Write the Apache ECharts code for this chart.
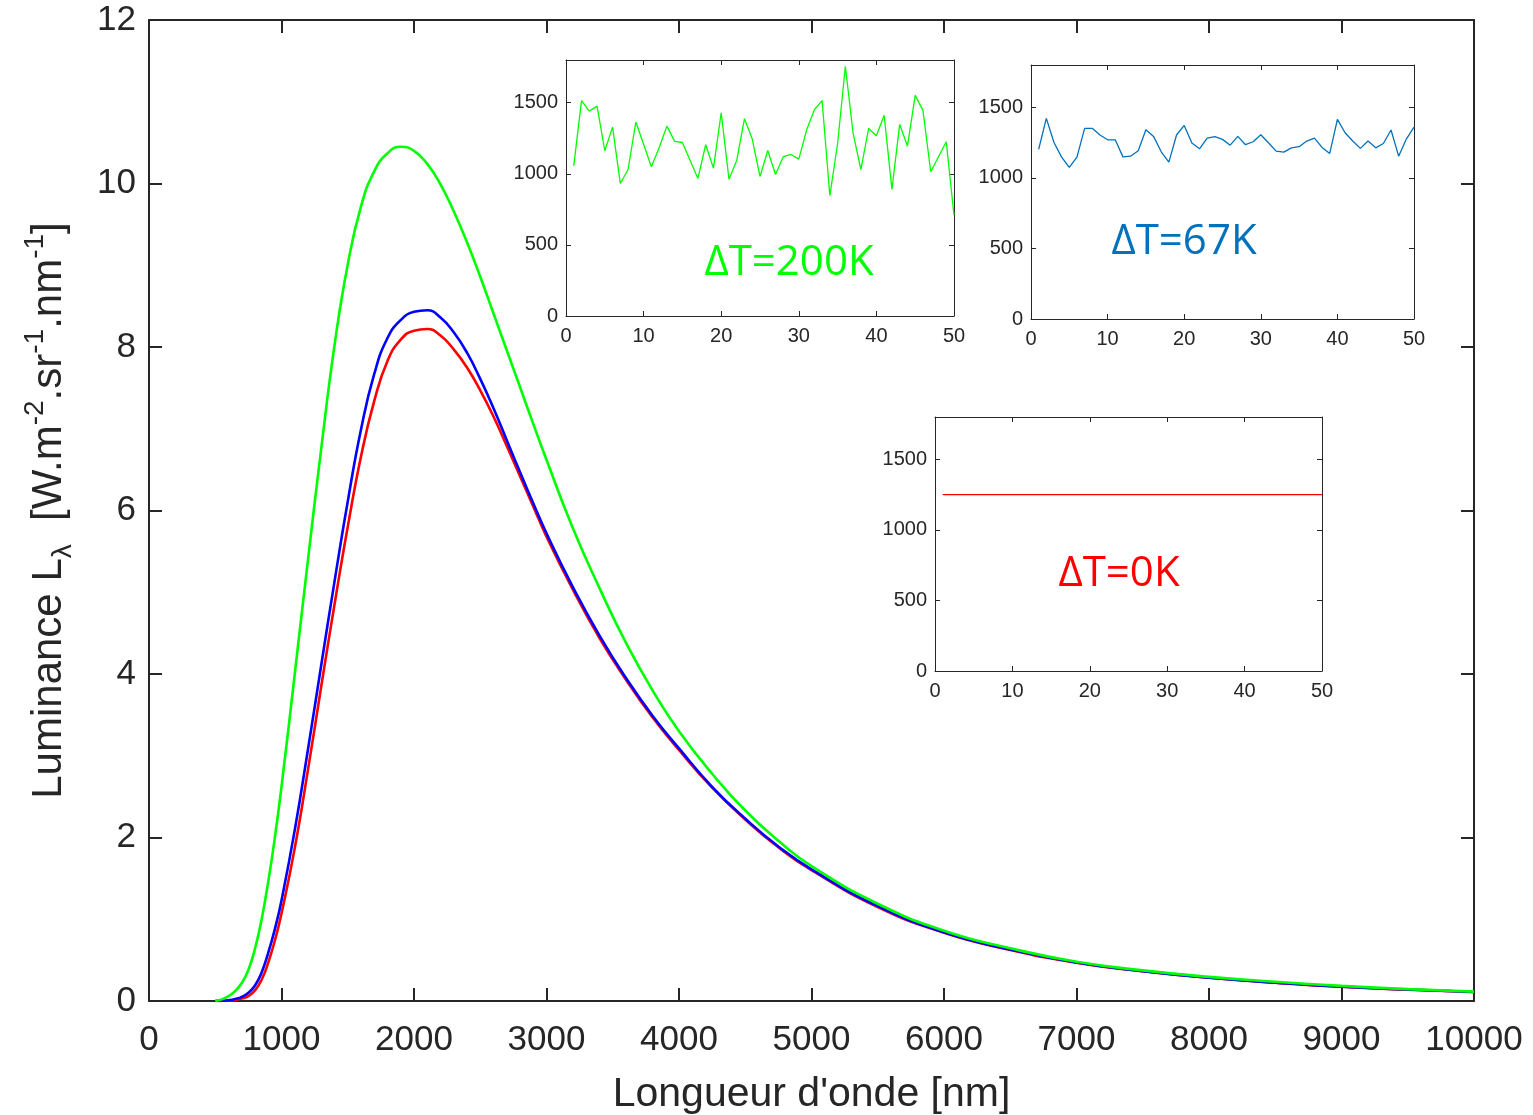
<!DOCTYPE html>
<html>
<head>
<meta charset="utf-8">
<script src="https://cdn.jsdelivr.net/npm/echarts@6/dist/echarts.min.js"></script>
<style>
html,body{margin:0;padding:0;background:#fff;}
#chart{width:1533px;height:1115px;}
</style>
</head>
<body>
<div id="chart"></div>
<script>
// ---- Main chart data ----
const wavelength = [500,550,600,650,700,750,800,850,900,950,1000,1100,1200,1300,1400,1500,1600,1700,1800,1900,2000,2100,2200,2300,2400,2500,2600,2700,2800,2900,3000,3200,3400,3600,3800,4000,4250,4500,4750,5000,5500,6000,6500,7000,7500,8000,8500,9000,9500,10000];
const lumRed   = [0,0.001,0.005,0.012,0.03,0.06,0.13,0.26,0.47,0.74,1.07,1.87,2.83,3.85,4.85,5.80,6.66,7.34,7.83,8.09,8.20,8.22,8.14,7.97,7.75,7.47,7.15,6.79,6.42,6.05,5.68,5.03,4.44,3.93,3.47,3.07,2.61,2.22,1.88,1.60,1.15,0.835,0.625,0.468,0.363,0.284,0.224,0.174,0.139,0.11];
const lumBlue  = [0,0.003,0.01,0.025,0.05,0.10,0.19,0.35,0.59,0.88,1.23,2.09,3.08,4.11,5.13,6.11,6.99,7.67,8.11,8.33,8.43,8.45,8.36,8.18,7.93,7.61,7.25,6.86,6.47,6.09,5.72,5.06,4.47,3.95,3.49,3.09,2.62,2.23,1.89,1.61,1.16,0.84,0.63,0.47,0.365,0.285,0.225,0.175,0.14,0.11];
const lumGreen = [0,0.02,0.06,0.12,0.22,0.38,0.64,1.00,1.46,2.00,2.62,4.00,5.40,6.76,8.02,9.01,9.72,10.15,10.37,10.45,10.40,10.24,9.99,9.66,9.28,8.86,8.41,7.96,7.51,7.06,6.62,5.78,5.05,4.38,3.80,3.30,2.78,2.33,1.96,1.65,1.19,0.86,0.645,0.48,0.375,0.295,0.235,0.185,0.145,0.115];

const xTicksMain = {min:0, max:10000, interval:1000};
const yTicksMain = {min:0, max:12, interval:2};

// ---- Inset data: temperature samples ----
const sampleIndex = [1,2,3,4,5,6,7,8,9,10,11,12,13,14,15,16,17,18,19,20,21,22,23,24,25,26,27,28,29,30,31,32,33,34,35,36,37,38,39,40,41,42,43,44,45,46,47,48,49,50];
const tempGreen = [1056,1514,1441,1476,1162,1328,932,1030,1364,1208,1049,1183,1335,1228,1220,1094,967,1204,1040,1429,962,1094,1387,1244,981,1164,995,1120,1136,1103,1307,1450,1514,847,1213,1756,1284,1030,1319,1267,1411,890,1347,1195,1551,1446,1014,1120,1225,709];
const tempBlue  = [1202,1422,1251,1147,1074,1147,1351,1351,1304,1270,1270,1149,1154,1192,1341,1294,1185,1112,1304,1372,1247,1206,1282,1292,1273,1232,1294,1235,1256,1306,1249,1190,1183,1213,1221,1261,1282,1216,1173,1415,1320,1261,1209,1261,1213,1244,1339,1154,1275,1360];
const tempRed   = [1250,1250,1250,1250,1250,1250,1250,1250,1250,1250,1250,1250,1250,1250,1250,1250,1250,1250,1250,1250,1250,1250,1250,1250,1250,1250,1250,1250,1250,1250,1250,1250,1250,1250,1250,1250,1250,1250,1250,1250,1250,1250,1250,1250,1250,1250,1250,1250,1250,1250];
const xTicksInset = {min:0, max:50, interval:10};
const yTicksInset = {min:0, max:1800, interval:500};

const insetLabels = ['\u0394T=200K','\u0394T=67K','\u0394T=0K'];

const AX = '#262626';
const FONT = '"Liberation Sans", Arial, Helvetica, sans-serif';
const plain = v => String(v);

function pairs(xs, ys){ return xs.map((x,i)=>[x, ys[i]]); }

function makeX(gridIndex, ticks, pos, showLabel, fs, lw, tickLen, margin){
  return {
    type:'value', gridIndex, position:pos, min:ticks.min, max:ticks.max, interval:ticks.interval,
    axisLine:{show:true, onZero:false, lineStyle:{color:AX, width:lw}},
    axisTick:{show:true, inside:true, length:tickLen, lineStyle:{color:AX, width:lw}},
    axisLabel:{show:showLabel, color:AX, fontSize:fs, fontFamily:FONT, margin:margin, formatter:plain, showMaxLabel:true, showMinLabel:true},
    splitLine:{show:false}
  };
}
function makeY(gridIndex, ticks, pos, showLabel, fs, lw, tickLen, margin, hideMax){
  return {
    type:'value', gridIndex, position:pos, min:ticks.min, max:ticks.max, interval:ticks.interval,
    axisLine:{show:true, onZero:false, lineStyle:{color:AX, width:lw}},
    axisTick:{show:true, inside:true, length:tickLen, lineStyle:{color:AX, width:lw}},
    axisLabel:{show:showLabel, color:AX, fontSize:fs, fontFamily:FONT, margin:margin, formatter:plain, showMaxLabel:!hideMax},
    splitLine:{show:false}
  };
}

const grids = [
  {left:149, top:20, width:1325, height:981},
  {left:566, top:60, width:388, height:256},
  {left:1031, top:65, width:383, height:254},
  {left:935, top:417, width:387, height:254}
].map(g=>Object.assign({outerBoundsMode:'none', containLabel:false, show:true, backgroundColor:'#fff', borderWidth:0}, g));

const xAxes = [
  Object.assign(makeX(0, xTicksMain, 'bottom', true, 35, 2, 13, 22), {
    name:"Longueur d'onde [nm]", nameLocation:'middle', nameGap:73,
    nameTextStyle:{color:AX, fontSize:41, fontFamily:FONT}
  }),
  makeX(0, xTicksMain, 'top', false, 35, 2, 13, 14),
];
const yAxes = [
  Object.assign(makeY(0, yTicksMain, 'left', true, 35, 2, 13, 13, false), {
    name:'{a|Luminance L}{sub|\u03bb}{a|  [W.m}{sup|-2}{a|.sr}{sup|-1}{a|.nm}{sup|-1}{a|]}',
    nameLocation:'middle', nameGap:72, nameRotate:90,
    nameTextStyle:{color:AX, fontSize:42, fontFamily:FONT,
      rich:{
        a:{fontSize:42, fontFamily:FONT, color:AX, lineHeight:56, verticalAlign:'middle'},
        sub:{fontSize:28, fontFamily:FONT, color:AX, lineHeight:28, verticalAlign:'bottom'},
        sup:{fontSize:28, fontFamily:FONT, color:AX, lineHeight:28, verticalAlign:'top'}
      }}
  }),
  makeY(0, yTicksMain, 'right', false, 35, 2, 13, 12, false),
];
for (let g=1; g<=3; g++){
  xAxes.push(makeX(g, xTicksInset, 'bottom', true, 20, 1, 5, 10));
  xAxes.push(makeX(g, xTicksInset, 'top', false, 20, 1, 5, 7));
  yAxes.push(makeY(g, yTicksInset, 'left', true, 20, 1, 5, 8, true));
  yAxes.push(makeY(g, yTicksInset, 'right', false, 20, 1, 5, 8, true));
}

function mainLine(data, color){
  return {type:'line', xAxisIndex:0, yAxisIndex:0, data, showSymbol:false, symbol:'none',
    smooth:0.5, lineStyle:{color, width:2.6}, itemStyle:{color}, z:3, animation:false};
}
function insetLine(g, data, color, w){
  return {type:'line', xAxisIndex:2*g, yAxisIndex:2*g, data, showSymbol:false, symbol:'none',
    lineStyle:{color, width:w}, itemStyle:{color}, z:5, animation:false};
}

const series = [
  mainLine(pairs(wavelength, lumRed), '#ff0000'),
  mainLine(pairs(wavelength, lumBlue), '#0000ff'),
  mainLine(pairs(wavelength, lumGreen), '#00ff00'),
  insetLine(1, pairs(sampleIndex, tempGreen), '#00ff00', 1.3),
  insetLine(2, pairs(sampleIndex, tempBlue), '#0072bd', 1.3),
  insetLine(3, pairs(sampleIndex, tempRed), '#ff0000', 1.3)
];

const TXTFONT = '42px "Open Sans", "Noto Sans", sans-serif';
const graphic = [
  {type:'text', x:789, y:263, z:100, style:{text:insetLabels[0], fill:'#00ff00', font:TXTFONT, textAlign:'center', textVerticalAlign:'middle', verticalAlign:'middle'}},
  {type:'text', x:1184, y:242, z:100, style:{text:insetLabels[1], fill:'#0072bd', font:TXTFONT, textAlign:'center', textVerticalAlign:'middle', verticalAlign:'middle'}},
  {type:'text', x:1119, y:574, z:100, style:{text:insetLabels[2], fill:'#ff0000', font:TXTFONT, textAlign:'center', textVerticalAlign:'middle', verticalAlign:'middle'}}
];

const chart = echarts.init(document.getElementById('chart'), null, {renderer:'canvas'});
chart.setOption({
  animation:false,
  backgroundColor:'#ffffff',
  grid:grids,
  xAxis:xAxes,
  yAxis:yAxes,
  series:series,
  graphic:graphic
});
</script>
</body>
</html>
